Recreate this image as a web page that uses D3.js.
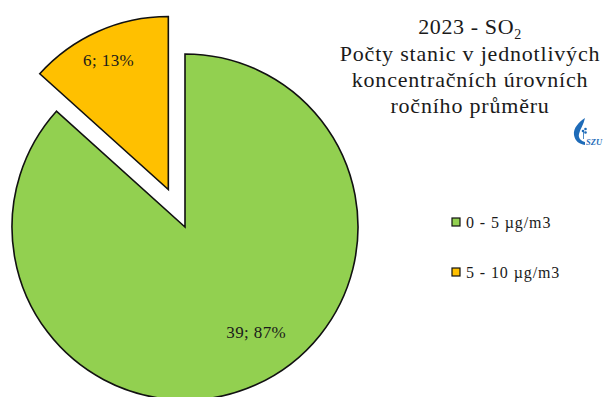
<!DOCTYPE html>
<html>
<head>
<meta charset="utf-8">
<script src="https://cdn.jsdelivr.net/npm/d3@7"></script>
<style>
  html, body { margin: 0; padding: 0; background: #fff; }
  svg { display: block; }
  text { font-family: "Liberation Serif", "DejaVu Serif", serif; fill: #1a1a1a; }
</style>
</head>
<body>
<svg id="chart" width="606" height="397"></svg>
<script>
// Station counts per annual-mean concentration band, SO2 2023
const categories = ["0 - 5 µg/m3", "5 - 10 µg/m3"];
const counts = [39, 6];
const colors = ["#92D050", "#FFC000"];
const titleLines = ["Počty stanic v jednotlivých", "koncentračních úrovních", "ročního průměru"];

const svg = d3.select("#chart");
const cx = 185, cy = 227, R = 173;
const explode = 41;          // offset of the detached slice
const total = d3.sum(counts);

const pie = d3.pie().sort(null).startAngle(0).endAngle(2 * Math.PI);
const arcs = pie(counts);
const arc = d3.arc().innerRadius(0).outerRadius(R);

const g = svg.append("g").attr("transform", `translate(${cx},${cy})`);

// the smaller band is pulled out of the pie
const offsetOf = (d, i) => {
  if (i === 0) return [0, 0];
  const mid = (d.startAngle + d.endAngle) / 2;
  return [Math.sin(mid) * explode, -Math.cos(mid) * explode];
};

const slices = g.selectAll("g.slice").data(arcs).join("g")
  .attr("class", "slice")
  .attr("transform", (d, i) => { const o = offsetOf(d, i); return `translate(${o[0]},${o[1]})`; });

slices.append("path")
  .attr("d", arc)
  .attr("fill", (d, i) => colors[i])
  .attr("stroke", "#111")
  .attr("stroke-width", 1.6)
  .attr("stroke-linejoin", "miter");

// value; percent labels
const labelRadius = [0.74 * R, 0.82 * R];
const labelTurn = [-0.19, 0];
slices.append("text")
  .attr("text-anchor", "middle")
  .attr("font-size", 17)
  .attr("letter-spacing", 0.4)
  .attr("x", (d, i) => { const a = (d.startAngle + d.endAngle) / 2 + labelTurn[i]; return Math.sin(a) * labelRadius[i] - 2; })
  .attr("y", (d, i) => { const a = (d.startAngle + d.endAngle) / 2 + labelTurn[i]; return -Math.cos(a) * labelRadius[i] + 6; })
  .text(d => `${d.data}; ${Math.round(d.data / total * 100)}%`);

// title
const title = svg.append("g").attr("transform", "translate(470,0)");
const t0 = title.append("text").attr("text-anchor", "middle").attr("y", 34)
  .attr("font-size", 22).attr("letter-spacing", 0.6);
t0.append("tspan").text("2023 - SO");
t0.append("tspan").attr("font-size", 14).attr("dy", 5).text("2");
titleLines.forEach((line, i) => {
  title.append("text").attr("text-anchor", "middle")
    .attr("y", 61 + i * 26).attr("font-size", 22)
    .attr("letter-spacing", 0.8).text(line);
});

// legend
const legend = svg.append("g").attr("transform", "translate(452,218)");
const items = legend.selectAll("g").data(categories).join("g")
  .attr("transform", (d, i) => `translate(0,${i * 50})`);
items.append("rect")
  .attr("width", 8).attr("height", 8)
  .attr("fill", (d, i) => colors[i])
  .attr("stroke", "#111").attr("stroke-width", 1.2);
items.append("text")
  .attr("x", 14).attr("y", 10)
  .attr("font-size", 16)
  .attr("letter-spacing", 0.9)
  .text(d => d);

// institute mark
const blue = "#1E6BB8";
const logo = svg.append("g").attr("transform", "translate(573,118)");
logo.append("path")
  .attr("d", "M12,0 C6,4 0,10 1,17 C2,23 6,26 12,27 L12,24 C8,23 5,20 6,16 C7,11 11,6 12,0 Z")
  .attr("fill", blue);
logo.append("line").attr("x1", 10.5).attr("y1", 14).attr("x2", 10.5).attr("y2", 21)
  .attr("stroke", blue).attr("stroke-width", 0.8);
[[10, 13], [12.5, 11], [12.5, 14.5]].forEach(p =>
  logo.append("circle").attr("cx", p[0]).attr("cy", p[1]).attr("r", 1.3).attr("fill", blue));
logo.append("text")
  .attr("x", 13).attr("y", 27)
  .attr("font-family", "Liberation Sans, sans-serif")
  .attr("font-style", "italic").attr("font-weight", "bold")
  .attr("font-size", 8.5)
  .style("fill", blue)
  .text("SZU");
</script>
</body>
</html>
